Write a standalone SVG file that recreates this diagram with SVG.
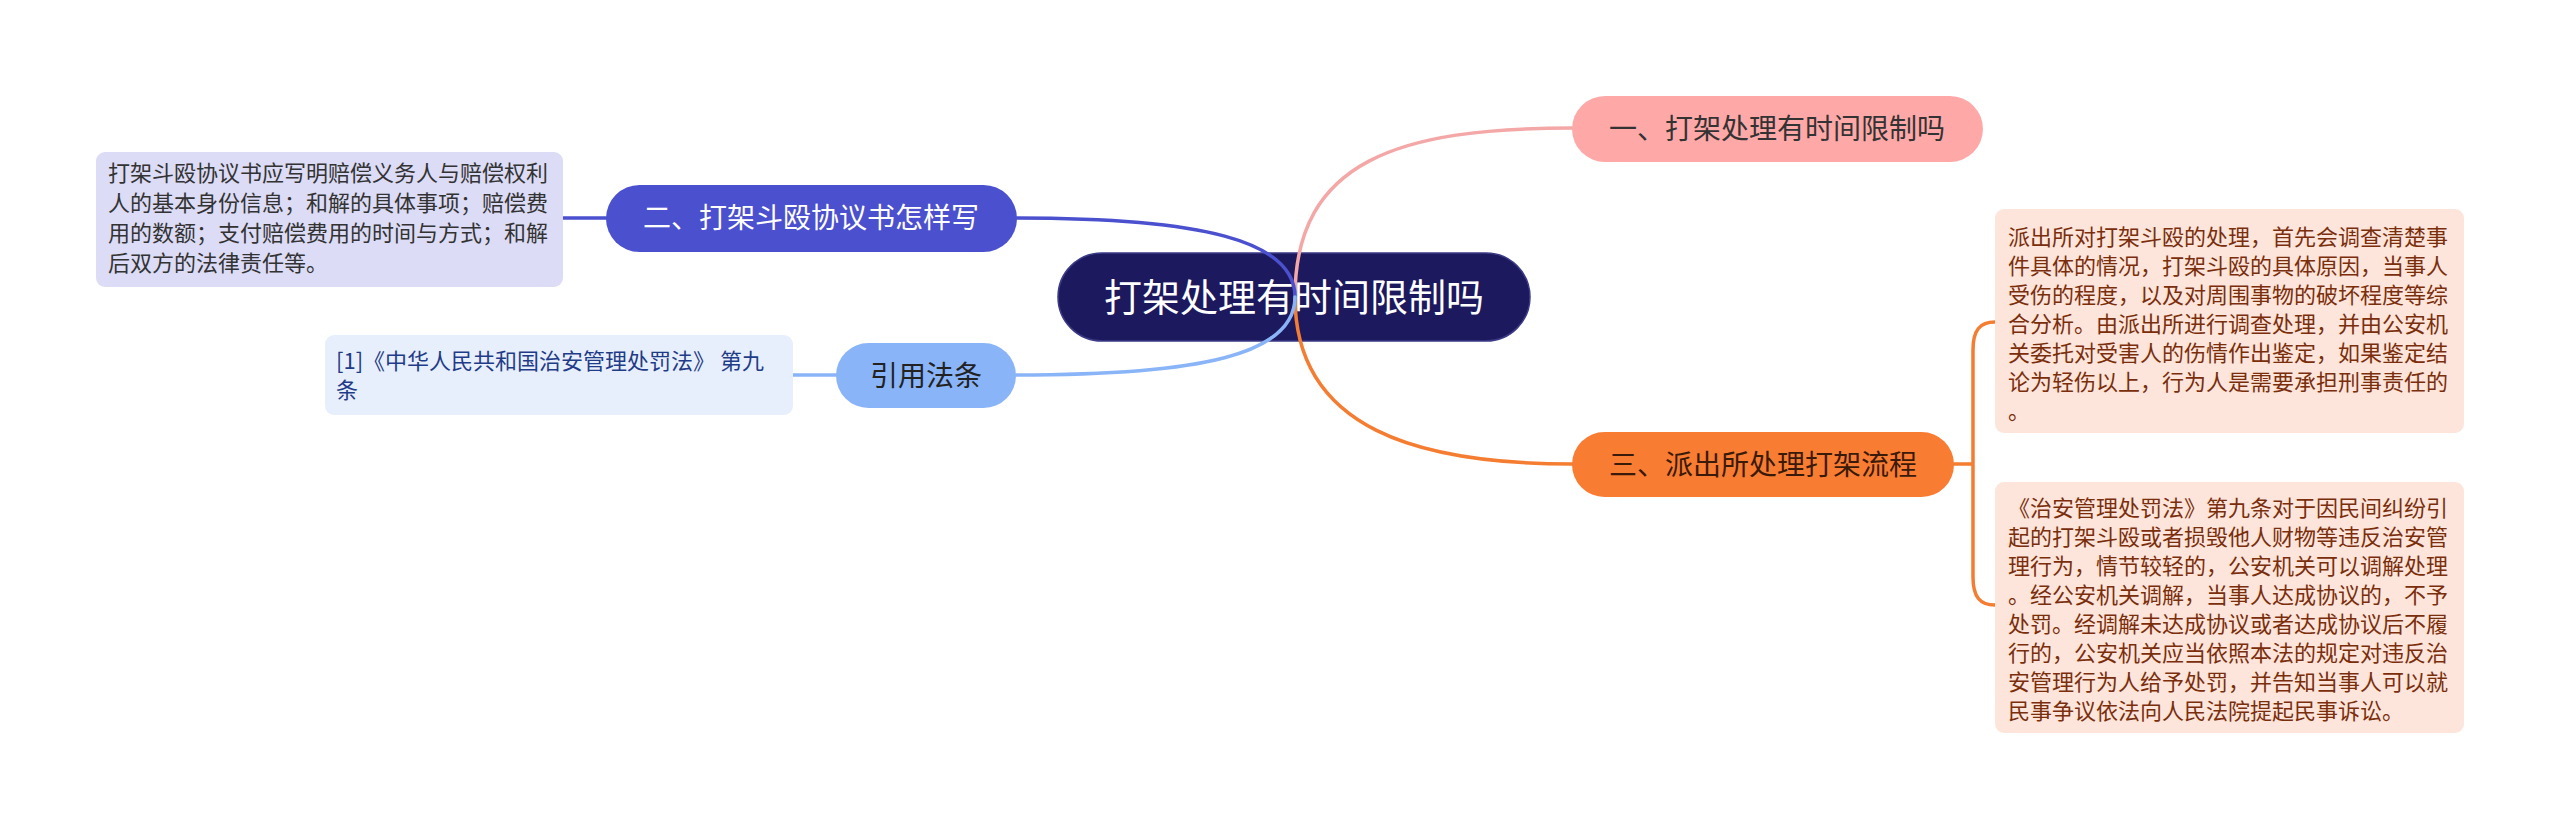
<svg xmlns="http://www.w3.org/2000/svg" width="2560" height="829" viewBox="0 0 2560 829">
<style>
text{font-family:"Noto Sans CJK SC","Noto Sans",sans-serif;}
.c{fill:none;stroke-width:3.5;stroke-linecap:round;}
.main{font-size:28px;text-anchor:middle;}
.leaf{font-size:22px;}
</style>
<rect width="2560" height="829" fill="#ffffff"/>
<g id="root">
<rect x="1058" y="253" width="472" height="88" rx="44" fill="#1d195e" stroke="#3b3a86" stroke-width="1.5"/>
<text x="1294" y="311" font-size="38" fill="#ffffff" text-anchor="middle">打架处理有时间限制吗</text>
</g>
<g id="connectors">
<path class="c" stroke="#f4a7a7" d="M1295 297 C1295 160 1400 128 1572 128"/>
<path class="c" stroke="#f47d32" d="M1295 297 C1295 430 1420 464 1572 464"/>
<path class="c" stroke="#4b50cf" d="M1017 218 C1200 218 1295 240 1295 297"/>
<path class="c" stroke="#8ab4f8" d="M1016 375 C1200 375 1295 355 1295 297"/>
<path class="c" stroke="#4b50cf" d="M563 218 H606"/>
<path class="c" stroke="#8ab4f8" d="M793 375 H836"/>
<path class="c" stroke="#f47d32" d="M1954 464 H1973 M1995 322 C1980 322 1973 330 1973 350 V577 C1973 597 1980 605 1995 605"/>
</g>
<g id="n1">
<rect x="1572" y="96" width="411" height="66" rx="33" fill="#ffa8a8"/>
<text class="main" x="1777" y="139" fill="#333333">一、打架处理有时间限制吗</text>
</g>
<g id="n3">
<rect x="1572" y="432" width="382" height="65" rx="32.5" fill="#f97c33"/>
<text class="main" x="1763" y="475" fill="#3a1a08">三、派出所处理打架流程</text>
</g>
<g id="n2">
<rect x="606" y="185" width="411" height="67" rx="33.5" fill="#4b50cf"/>
<text class="main" x="811" y="228" fill="#ffffff">二、打架斗殴协议书怎样写</text>
</g>
<g id="n4">
<rect x="836" y="343" width="180" height="65" rx="32.5" fill="#8ab4f8"/>
<text class="main" x="926" y="386" fill="#222222">引用法条</text>
</g>
<g id="leaf2">
<rect x="96" y="152" width="467" height="135" rx="9" fill="#dcdcf6"/>
<text class="leaf" fill="#333333">
<tspan x="108" y="181">打架斗殴协议书应写明赔偿义务人与赔偿权利</tspan>
<tspan x="108" y="211">人的基本身份信息；和解的具体事项；赔偿费</tspan>
<tspan x="108" y="241">用的数额；支付赔偿费用的时间与方式；和解</tspan>
<tspan x="108" y="271">后双方的法律责任等。</tspan>
</text>
</g>
<g id="leaf4">
<rect x="325" y="335" width="468" height="80" rx="9" fill="#e8effc"/>
<text class="leaf" fill="#1f3c88">
<tspan x="336" y="369">[1]《中华人民共和国治安管理处罚法》 第九</tspan>
<tspan x="336" y="398">条</tspan>
</text>
</g>
<g id="leaf3a">
<rect x="1995" y="209" width="469" height="224" rx="9" fill="#fde5db"/>
<text class="leaf" fill="#7a2e0c">
<tspan x="2008" y="245">派出所对打架斗殴的处理，首先会调查清楚事</tspan>
<tspan x="2008" y="274">件具体的情况，打架斗殴的具体原因，当事人</tspan>
<tspan x="2008" y="303">受伤的程度，以及对周围事物的破坏程度等综</tspan>
<tspan x="2008" y="332">合分析。由派出所进行调查处理，并由公安机</tspan>
<tspan x="2008" y="361">关委托对受害人的伤情作出鉴定，如果鉴定结</tspan>
<tspan x="2008" y="390">论为轻伤以上，行为人是需要承担刑事责任的</tspan>
<tspan x="2008" y="419">。</tspan>
</text>
</g>
<g id="leaf3b">
<rect x="1995" y="482" width="469" height="251" rx="9" fill="#fde5db"/>
<text class="leaf" fill="#7a2e0c">
<tspan x="2008" y="516">《治安管理处罚法》第九条对于因民间纠纷引</tspan>
<tspan x="2008" y="545">起的打架斗殴或者损毁他人财物等违反治安管</tspan>
<tspan x="2008" y="574">理行为，情节较轻的，公安机关可以调解处理</tspan>
<tspan x="2008" y="603">。经公安机关调解，当事人达成协议的，不予</tspan>
<tspan x="2008" y="632">处罚。经调解未达成协议或者达成协议后不履</tspan>
<tspan x="2008" y="661">行的，公安机关应当依照本法的规定对违反治</tspan>
<tspan x="2008" y="690">安管理行为人给予处罚，并告知当事人可以就</tspan>
<tspan x="2008" y="719">民事争议依法向人民法院提起民事诉讼。</tspan>
</text>
</g>
</svg>
